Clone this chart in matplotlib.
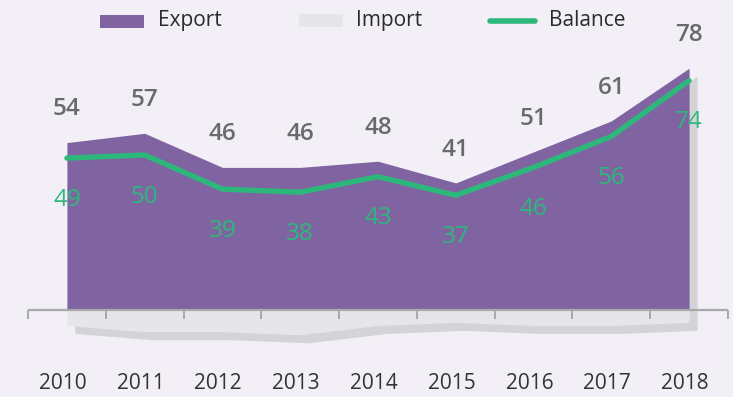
import matplotlib
matplotlib.use("Agg")
import matplotlib.pyplot as plt
import matplotlib.transforms as mtransforms
from matplotlib.lines import Line2D
from matplotlib.patches import Rectangle
import numpy as np

years = ["2010", "2011", "2012", "2013", "2014", "2015", "2016", "2017", "2018"]
export = [54, 57, 46, 46, 48, 41, 51, 61, 78]
imports = [5, 7, 7, 8, 5, 4, 5, 5, 4]
balance = [49, 50, 39, 38, 43, 37, 46, 56, 74]
legend_labels = ["Export", "Import", "Balance"]

BG = "#f2eff6"
PURPLE = "#8064a2"
IMPORT_C = "#e6e6e8"
SHADOW = "#d4d4d6"
GREEN = "#2db87b"
LABEL_GRAY = "#6a6a6a"
AXIS_GRAY = "#a9a9ab"
TEXT_DARK = "#2b2b2b"

plt.rcParams["font.family"] = ["Open Sans", "DejaVu Sans"]

W, H = 733, 397
fig = plt.figure(figsize=(W / 100, H / 100), dpi=100, facecolor=BG)
# plot box in pixels: x 28..728, y (from top) 18.6..344.1
ax = fig.add_axes([28 / W, (H - 344.1) / H, 700 / W, (344.1 - 18.6) / H])
ax.set_facecolor(BG)
ax.set_xlim(-0.5, 8.5)
ax.set_ylim(-11, 94)
for s in ax.spines.values():
    s.set_visible(False)
ax.set_xticks([])
ax.set_yticks([])

x = np.arange(len(years))
exp = np.array(export)
imp = -np.array(imports)

# soft drop shadow behind both areas, offset right and down
shift = mtransforms.ScaledTranslation(8 / 100, -8 / 100, fig.dpi_scale_trans)
ax.fill_between(x, imp, exp, color=SHADOW, lw=0, transform=ax.transData + shift, zorder=1)

ax.fill_between(x, 0, exp, color=PURPLE, lw=0, zorder=2)
ax.fill_between(x, imp, 0, color=IMPORT_C, lw=0, zorder=2)

# baseline with ticks at category boundaries
ax.plot([-0.5, 8.5], [0, 0], color=AXIS_GRAY, lw=1.6, zorder=4,
        clip_on=False, solid_capstyle="butt")
for b in np.arange(-0.5, 9.0, 1.0):
    ax.plot([b, b], [0, -3.0], color=AXIS_GRAY, lw=1.4, zorder=4,
            clip_on=False, solid_capstyle="butt")

ax.plot(x, balance, color=GREEN, lw=3.8, solid_capstyle="round",
        solid_joinstyle="round", zorder=5)

for xi, v in zip(x, export):
    ax.annotate(str(v), (xi, v), xytext=(0, 24), textcoords="offset points",
                ha="center", va="center", fontsize=17.5, color=LABEL_GRAY,
                fontweight="semibold", zorder=6)
for xi, v in zip(x, balance):
    ax.annotate(str(v), (xi, v), xytext=(0, -30), textcoords="offset points",
                ha="center", va="center", fontsize=17.5, color=GREEN, zorder=6)

for xi, y in zip(x, years):
    ax.annotate(y, (xi, 0), xytext=(-3, -53), textcoords="offset points",
                ha="center", va="center", fontsize=15, color="#333333",
                annotation_clip=False)

# legend drawn in figure pixel space
px = mtransforms.Affine2D().scale(1 / W, -1 / H).translate(0, 1) + fig.transFigure
fig.patches.append(Rectangle((100, 15), 44, 13, facecolor=PURPLE, edgecolor="none",
                             transform=px, figure=fig))
fig.patches.append(Rectangle((299, 14), 44, 13, facecolor=IMPORT_C, edgecolor="none",
                             transform=px, figure=fig))
fig.lines.append(Line2D([490, 535], [21, 21], color=GREEN, lw=4, solid_capstyle="round",
                        transform=px, figure=fig))
for tx, lab in zip([158, 356, 549], legend_labels):
    fig.text(tx, 20.5, lab, transform=px, ha="left", va="center",
             fontsize=15, color=TEXT_DARK)

fig.savefig("out.png", dpi=100, facecolor=BG)
